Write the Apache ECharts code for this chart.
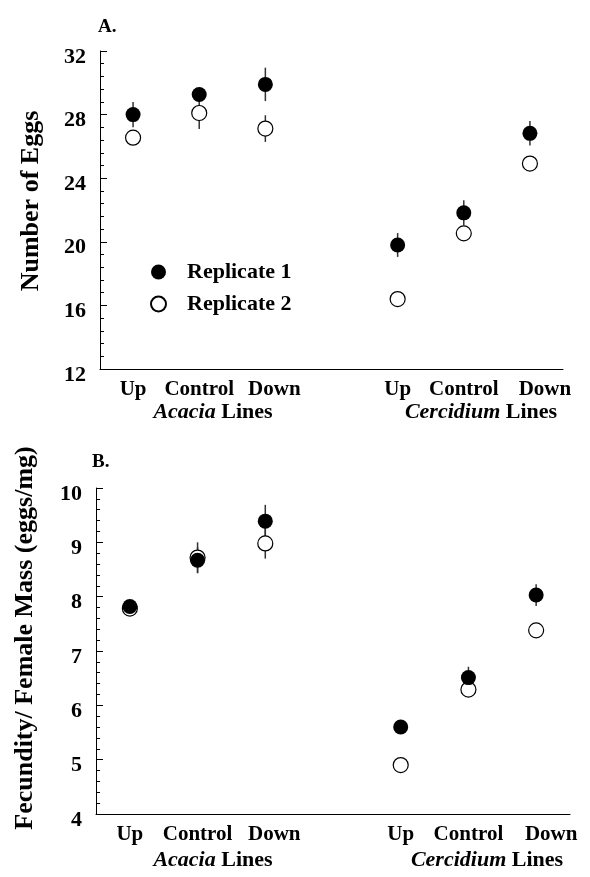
<!DOCTYPE html>
<html>
<head>
<meta charset="utf-8">
<script src="https://cdn.jsdelivr.net/npm/echarts@6/dist/echarts.min.js"></script>
<style>
  html, body { margin: 0; padding: 0; background: #fff; }
  #chart { width: 590px; height: 877px; }
</style>
</head>
<body>
<div id="chart"></div>
<script>
// categories (index 3 is the empty gap between the two host groups)
const categories = ['Up', 'Control', 'Down', '', 'Up', 'Control', 'Down'];

// A. number of eggs
const eggsRep1 = [28.0, 29.26, 29.9, null, 19.8, 21.82, 26.82];
const eggsRep1Err = [0.8, 0.4, 1.05, null, 0.75, 0.8, 0.77];
const eggsRep2 = [26.55, 28.1, 27.12, null, 16.4, 20.53, 24.92];
const eggsRep2Err = [0.4, 1.0, 0.84, null, 0.3, 0.4, 0.4];

// B. fecundity / female mass
const fecRep1 = [7.82, 8.67, 9.39, null, 5.6, 6.51, 8.03];
const fecRep1Err = [0.1, 0.24, 0.3, null, 0.1, 0.2, 0.2];
const fecRep2 = [7.78, 8.72, 8.98, null, 4.9, 6.29, 7.38];
const fecRep2Err = [0.1, 0.28, 0.28, null, 0.1, 0.1, 0.1];

const FONT = 'Liberation Serif';

function points(vals) {
  const out = [];
  vals.forEach((v, i) => { if (v != null) out.push([i, v]); });
  return out;
}
function bars(vals, errs) {
  const out = [];
  vals.forEach((v, i) => { if (v != null) out.push([i, v - errs[i], v + errs[i]]); });
  return out;
}

function catData() {
  return categories.map((c, i) => {
    if (c === 'Down') return { value: c, textStyle: { padding: [0, 0, 0, i < 3 ? 18 : 30] } };
    return c;
  });
}

function xAxisFor(gi) {
  return {
    gridIndex: gi, type: 'category', data: catData(), boundaryGap: true,
    axisLine: { lineStyle: { color: '#000', width: 1 } },
    axisTick: { inside: true, alignWithLabel: true, length: 8, lineStyle: { color: '#000' } },
    axisLabel: { interval: 0, margin: 10, color: '#000', fontFamily: FONT, fontWeight: 'bold', fontSize: 21 },
    splitLine: { show: false }
  };
}

function yAxisFor(gi, min, max, interval) {
  return {
    gridIndex: gi, type: 'value', min: min, max: max, interval: interval,
    axisLine: { show: true, lineStyle: { color: '#000', width: 1 } },
    axisTick: { show: true, inside: true, length: 7, lineStyle: { color: '#000' } },
    minorTick: { show: true, splitNumber: 5, length: 4, lineStyle: { color: '#000' } },
    axisLabel: { margin: 14, color: '#000', fontFamily: FONT, fontWeight: 'bold', fontSize: 22,
      verticalAlign: 'top', lineHeight: 12 },
    splitLine: { show: false }
  };
}

function errSeries(gi, vals, errs) {
  return {
    type: 'custom', xAxisIndex: gi, yAxisIndex: gi, z: 1, silent: true,
    data: bars(vals, errs),
    renderItem: function (params, api) {
      const lo = api.coord([api.value(0), api.value(1)]);
      const hi = api.coord([api.value(0), api.value(2)]);
      return {
        type: 'line',
        shape: { x1: lo[0], y1: lo[1], x2: hi[0], y2: hi[1] },
        style: { stroke: '#333', lineWidth: 1.5 }
      };
    }
  };
}

function scatter(gi, name, vals, filled) {
  return {
    type: 'scatter', name: name, xAxisIndex: gi, yAxisIndex: gi, z: filled ? 4 : 3,
    symbol: 'circle', symbolSize: 15,
    itemStyle: filled
      ? { color: '#000', opacity: 1 }
      : { color: '#fff', borderColor: '#000', borderWidth: 1.2, opacity: 1 },
    data: points(vals)
  };
}

const titleStyle = { fontFamily: FONT, fontWeight: 'bold', fill: '#000' };
const groupRich = { i: { fontStyle: 'italic', fontFamily: FONT, fontWeight: 'bold', fontSize: 22 } };

const chart = echarts.init(document.getElementById('chart'), null, { renderer: 'canvas' });
chart.setOption({
  animation: false,
  backgroundColor: '#fff',
  grid: [
    { left: 100, top: 51, width: 463, height: 318 },
    { left: 96, top: 488, width: 474, height: 326 }
  ],
  xAxis: [xAxisFor(0), xAxisFor(1)],
  yAxis: [yAxisFor(0, 12, 32, 4), yAxisFor(1, 4, 10, 1)],
  legend: {
    data: ['Replicate 1', 'Replicate 2'],
    orient: 'vertical', left: 145, top: 256,
    itemWidth: 15, itemHeight: 15, itemGap: 10,
    selectedMode: false,
    textStyle: { color: '#000', fontFamily: FONT, fontWeight: 'bold', fontSize: 22, lineHeight: 22, padding: [0, 0, 0, 16] }
  },
  graphic: [
    { type: 'text', left: 98, top: 18, style: Object.assign({ text: 'A.', fontSize: 19 }, titleStyle) },
    { type: 'text', left: 92, top: 453, style: Object.assign({ text: 'B.', fontSize: 19 }, titleStyle) },
    { type: 'text', x: 31, y: 201, rotation: Math.PI / 2,
      style: Object.assign({ text: 'Number of Eggs', fontSize: 26, align: 'center', verticalAlign: 'middle' }, titleStyle) },
    { type: 'text', x: 25, y: 638, rotation: Math.PI / 2,
      style: Object.assign({ text: 'Fecundity/ Female Mass (eggs/mg)', fontSize: 26, align: 'center', verticalAlign: 'middle' }, titleStyle) },
    { type: 'text', x: 213, y: 412,
      style: Object.assign({ text: '{i|Acacia} Lines', fontSize: 22, align: 'center', verticalAlign: 'middle', rich: groupRich }, titleStyle) },
    { type: 'text', x: 481, y: 412,
      style: Object.assign({ text: '{i|Cercidium} Lines', fontSize: 22, align: 'center', verticalAlign: 'middle', rich: groupRich }, titleStyle) },
    { type: 'text', x: 213, y: 860,
      style: Object.assign({ text: '{i|Acacia} Lines', fontSize: 22, align: 'center', verticalAlign: 'middle', rich: groupRich }, titleStyle) },
    { type: 'text', x: 487, y: 860,
      style: Object.assign({ text: '{i|Cercidium} Lines', fontSize: 22, align: 'center', verticalAlign: 'middle', rich: groupRich }, titleStyle) }
  ],
  series: [
    errSeries(0, eggsRep1, eggsRep1Err),
    errSeries(0, eggsRep2, eggsRep2Err),
    scatter(0, 'Replicate 2', eggsRep2, false),
    scatter(0, 'Replicate 1', eggsRep1, true),
    errSeries(1, fecRep1, fecRep1Err),
    errSeries(1, fecRep2, fecRep2Err),
    scatter(1, 'Replicate 2', fecRep2, false),
    scatter(1, 'Replicate 1', fecRep1, true)
  ]
});
</script>
</body>
</html>
